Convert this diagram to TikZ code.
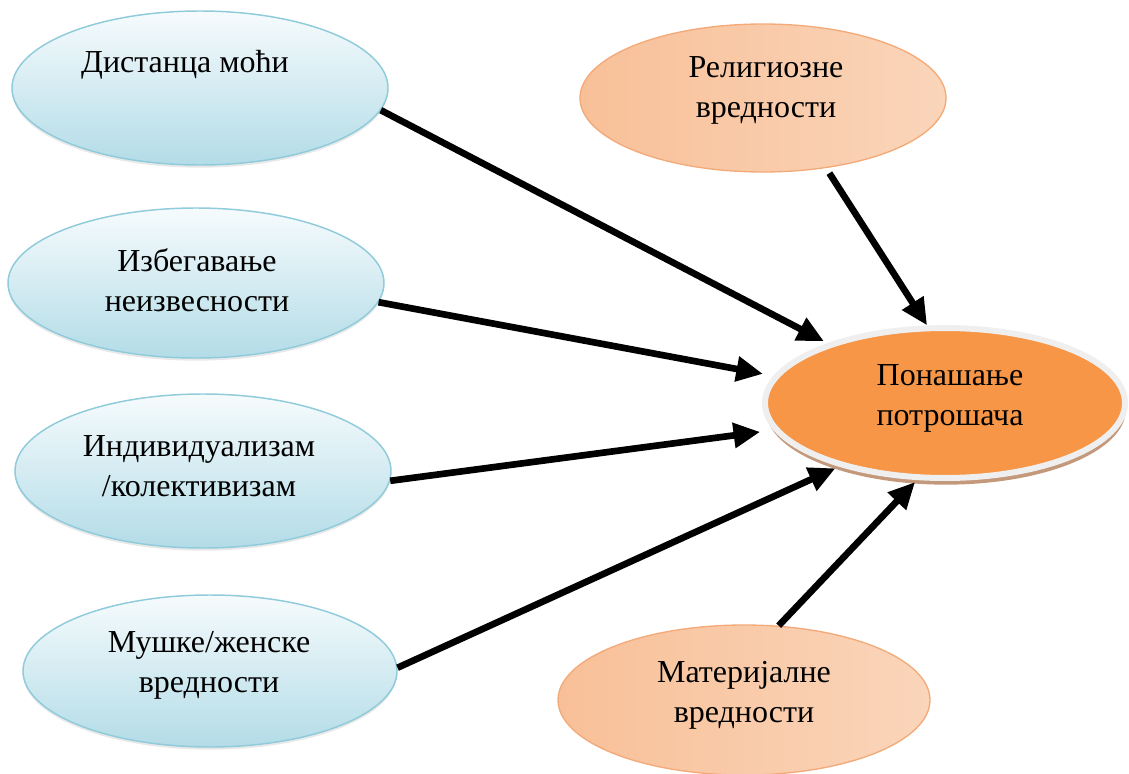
\documentclass[tikz,border=0pt]{standalone}
\usepackage{fontspec}
\setmainfont{Liberation Serif}
\usetikzlibrary{shapes.geometric,arrows.meta,shadows}
\definecolor{bluetop}{HTML}{F6FBFD}
\definecolor{bluebot}{HTML}{B3DCE7}
\definecolor{blueedge}{HTML}{8FCBDB}
\definecolor{peachdark}{HTML}{F8C098}
\definecolor{peachlight}{HTML}{FDEBDF}
\definecolor{peachmid}{HTML}{FAD5BA}
\definecolor{peachedge}{HTML}{F3AA78}
\definecolor{coreorange}{HTML}{F79646}
\definecolor{corering}{HTML}{EFEFEF}
\definecolor{coreshadow}{HTML}{C4987A}
\begin{document}
\begin{tikzpicture}[x=0.75pt,y=-0.75pt,
  oval/.style={ellipse, inner sep=0pt},
  txt/.style={font=\fontsize{24pt}{30pt}\selectfont, align=center, text=black},
  culture/.style={oval, draw=blueedge, line width=1.1pt,
    top color=bluetop, bottom color=bluebot,
    drop shadow={opacity=0.18, shadow xshift=0pt, shadow yshift=-2pt}},
  valuebox/.style={oval, draw=peachedge, line width=1pt,
    left color=peachdark, middle color=peachlight, right color=peachmid},
  corebox/.style={oval, fill=coreorange, draw=corering, line width=4.5pt,
    drop shadow={fill=coreshadow, opacity=1, shadow xshift=0.6pt, shadow yshift=-5pt}},
  conn/.style={line width=5pt, -{Triangle[length=20pt,width=18pt]}}
]
\useasboundingbox (0,0) rectangle (1129,774);

% cultural dimensions on the left
\node[culture, minimum width=282pt, minimum height=115.5pt,
  label={[txt, shift={(-15,-23)}]center:Дистанца моћи}] (d1) at (200,88) {};
\node[culture, minimum width=282pt, minimum height=112.5pt,
  label={[txt, shift={(1,-3)}]center:Избегавање\\неизвесности}] (d2) at (196,283) {};
\node[culture, minimum width=282pt, minimum height=115.5pt,
  label={[txt, shift={(-4,-5)}]center:Индивидуализам\\/колективизам}] (d3) at (203,471) {};
\node[culture, minimum width=280.5pt, minimum height=114pt,
  label={[txt, shift={(-1,-6)}]center:Мушке/женске\\вредности}] (d4) at (210,671) {};

% religious and material values
\node[valuebox, minimum width=274.5pt, minimum height=111pt,
  label={[txt, shift={(3,-8)}]center:Религиозне\\вредности}] (r) at (763,98) {};
\node[valuebox, minimum width=279pt, minimum height=112.5pt,
  label={[txt, shift={(0,-5)}]center:Материјалне\\вредности}] (m) at (744,700) {};

% consumer behaviour
\node[corebox, minimum width=270pt, minimum height=112.5pt,
  label={[txt, shift={(5,-5)}]center:Понашање\\потрошача}] (c) at (945,403) {};

% influences
\draw[conn, shorten >=3pt] (d1.-7) -- (c.153.6);
\draw[conn, shorten >=8pt] (d2.-6.1) -- (c.171.3);
\draw[conn, shorten >=10pt] (d3.-3.7) -- (c.-171.6);
\draw[conn, shorten >=3pt] (d4.1.3) -- (c.-149.9);
\draw[conn, shorten <=4.5pt] (r.-48.7) -- (c.103.5);
\draw[conn, shorten >=2pt] (m.65.6) -- (c.-110.6);
\end{tikzpicture}
\end{document}
